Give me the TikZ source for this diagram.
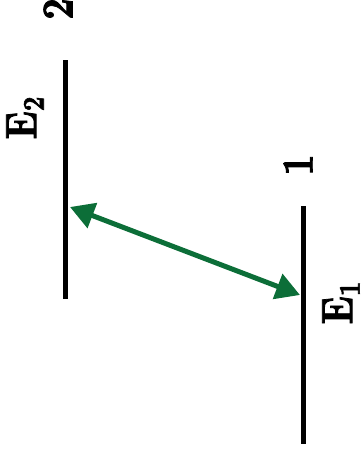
\documentclass[tikz,border=0pt]{standalone}
\usepackage{fontspec}
\newfontfamily\heavyfont{lmroman10-bold.otf}[FakeBold=2]
\usetikzlibrary{arrows.meta}
\definecolor{arrgreen}{RGB}{12,110,56}
\newcommand{\levsub}[1]{\raisebox{-0.17em}{\fontsize{30}{30}\selectfont #1}}
\newcommand{\narrowtxt}[1]{\scalebox{0.85}[1]{#1}}
\begin{document}
\begin{tikzpicture}[x=1pt,y=-1pt,
  level/.style={line width=5pt,black},
  lab/.style={rotate=90,inner sep=0pt,font=\heavyfont\fontsize{44}{44}\selectfont},
  trans/.style={line width=5pt,arrgreen,{Triangle[length=24pt,width=26pt]}-{Triangle[length=24pt,width=26pt]}}]
\useasboundingbox (0,0) rectangle (360,459);
\coordinate (l2t) at (65,60);
\coordinate (l2b) at (65,299);
\coordinate (l1t) at (303,206);
\coordinate (l1b) at (303,444);
\draw[level] (l2t) -- (l2b);
\draw[level] (l1t) -- (l1b);
\coordinate (a) at (70,207);
\coordinate (b) at (300,295);
\draw[trans] (a) -- (b);
\node[lab] (e2) at (25,118) {\narrowtxt{E\levsub{2}}};
\node[lab] (n2) at (58,9) {\narrowtxt{2}};
\node[lab] (n1) at (298,165) {\narrowtxt{1}};
\node[lab] (e1) at (341,303) {\narrowtxt{E\levsub{1}}};
\end{tikzpicture}
\end{document}
